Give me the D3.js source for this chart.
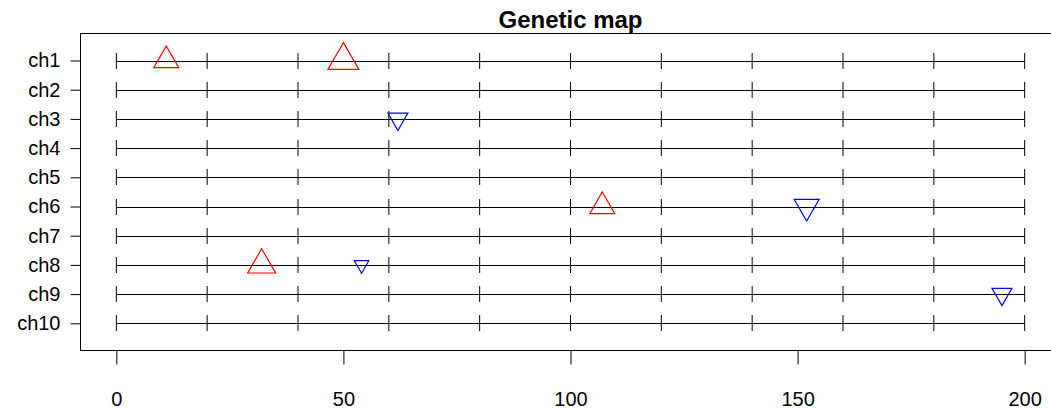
<!DOCTYPE html>
<html>
<head>
<meta charset="utf-8">
<script src="https://cdn.jsdelivr.net/npm/d3@7"></script>
<style>
  html, body { margin: 0; padding: 0; background: #ffffff; }
  svg { display: block; }
  text { font-family: "Liberation Sans", Arial, sans-serif; fill: #000; }
</style>
</head>
<body>
<script>
// ---- data ----
const chromosomes = ["ch1","ch2","ch3","ch4","ch5","ch6","ch7","ch8","ch9","ch10"];
const chrLength = 200;
const chrMarks = [0, 20, 40, 60, 80, 100, 120, 140, 160, 180, 200];
const xTickValues = [0, 50, 100, 150, 200];
const qtlChr = ["ch1", "ch1", "ch3", "ch6", "ch6", "ch8", "ch8", "ch9"];
const qtlPos = [11, 50, 62, 107, 152, 32, 54, 195];
const qtlEffect = [2.5, 3.1, -2.0, 2.5, -2.5, 2.8, -1.45, -2.0];
const title = "Genetic map";

// ---- layout ----
const W = 1051, H = 409;
const plot = { left: 80, right: 1061, top: 33, bottom: 350 };

const svg = d3.select("body").append("svg").attr("width", W).attr("height", H);

const x = d3.scaleLinear().domain([-8, 208]).range([plot.left, plot.right]);
const yIdx = d3.scaleLinear().domain([1, 10]).range([60.5, 323.3]);
const y = c => yIdx(chromosomes.indexOf(c) + 1);
const side = d3.scaleLinear().domain([0, 1]).range([0, 10]);

// box
svg.append("rect")
  .attr("x", plot.left + 0.5).attr("y", plot.top + 0.5)
  .attr("width", plot.right - plot.left).attr("height", plot.bottom - plot.top)
  .attr("fill", "none").attr("stroke", "#000").attr("stroke-width", 1);

// title
svg.append("text")
  .attr("x", (plot.left + plot.right) / 2).attr("y", 28)
  .attr("text-anchor", "middle")
  .style("font-size", "24px").style("font-weight", "bold")
  .text(title);

// x axis
const xAxis = d3.axisBottom(x).tickValues(xTickValues).tickSize(14).tickPadding(0).tickFormat(d3.format("d"));
const gx = svg.append("g").attr("transform", `translate(0,${plot.bottom + 0.5})`).call(xAxis);
gx.select(".domain").remove();
gx.selectAll("line").attr("stroke", "#000");
gx.selectAll("text").style("font-size", "20px").attr("y", 0).attr("dy", "55px");

// y axis
const yScaleBand = d3.scalePoint().domain(chromosomes).range([yIdx(1), yIdx(10)]);
const yAxis = d3.axisLeft(yScaleBand).tickSize(10).tickPadding(10);
const gy = svg.append("g").attr("transform", `translate(${plot.left + 0.5},0)`).call(yAxis);
gy.select(".domain").remove();
gy.selectAll("line").attr("stroke", "#000");
gy.selectAll("text").style("font-size", "20px");

// chromosome lines
const chrG = svg.append("g");
chromosomes.forEach(c => {
  const yy = Math.round(y(c)) + 0.5;
  chrG.append("line")
    .attr("x1", x(0)).attr("x2", x(chrLength))
    .attr("y1", yy).attr("y2", yy)
    .attr("stroke", "#000").attr("stroke-width", 1);
  chrG.selectAll(null).data(chrMarks).enter().append("line")
    .attr("x1", d => x(d)).attr("x2", d => x(d))
    .attr("y1", yy - 8.5).attr("y2", yy + 7.5)
    .attr("stroke", "#000").attr("stroke-width", 1);
});

// QTL triangles
const qtl = qtlPos.map((p, i) => ({ chr: qtlChr[i], pos: p, eff: qtlEffect[i] }));
function triPath(d) {
  const s = side(Math.abs(d.eff));
  const h = s * Math.sqrt(3) / 2;
  const cx = x(d.pos), cy = y(d.chr);
  if (d.eff > 0) {
    return `M${cx},${cy - 2 * h / 3} L${cx + s / 2},${cy + h / 3} L${cx - s / 2},${cy + h / 3} Z`;
  }
  return `M${cx},${cy + 2 * h / 3} L${cx + s / 2},${cy - h / 3} L${cx - s / 2},${cy - h / 3} Z`;
}
svg.append("g").selectAll("path").data(qtl).enter().append("path")
  .attr("d", triPath)
  .attr("fill", "none")
  .attr("stroke", d => d.eff > 0 ? "#FF0000" : "#0000FF")
  .attr("stroke-width", 1.2);
</script>
</body>
</html>
